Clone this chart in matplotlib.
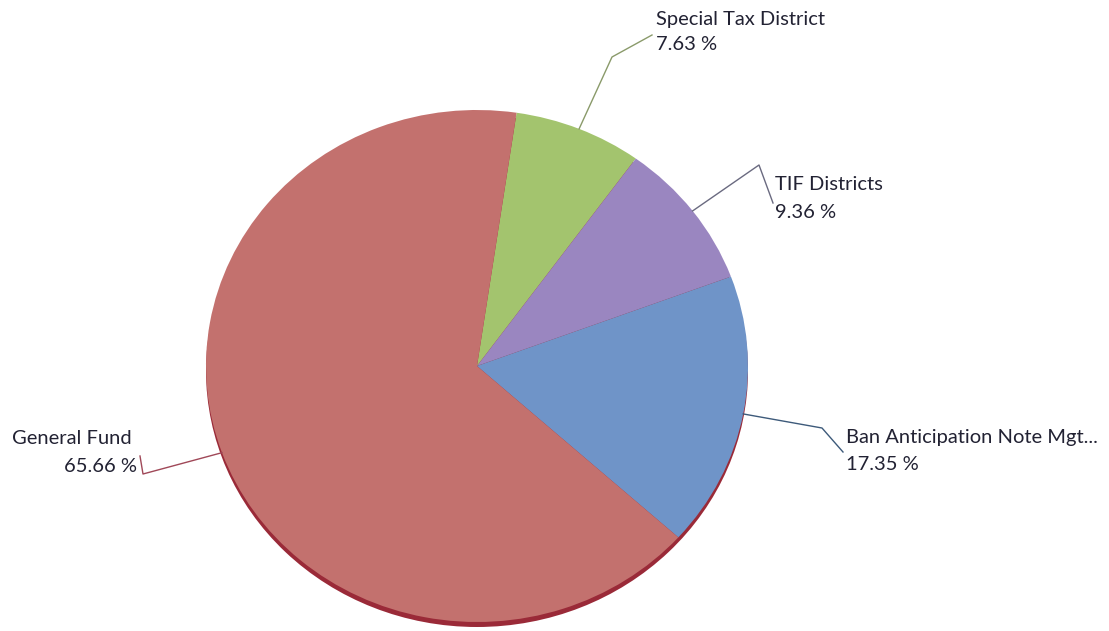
import numpy as np
import matplotlib
matplotlib.use("Agg")
import matplotlib.pyplot as plt
from matplotlib.patches import Ellipse

categories = ["Special Tax District", "TIF Districts", "Ban Anticipation Note Mgt...", "General Fund"]
values = [7.63, 9.36, 17.35, 65.66]
colors = ["#A3C46E", "#9A86C0", "#6F94C8", "#C3716E"]
line_colors = ["#8A9A6A", "#6A6A80", "#3D5A7A", "#A04858"]

W, H = 1109, 631
CX, CY = 477, 366
RX, RY = 271, 256

fig = plt.figure(figsize=(W / 100, H / 100), dpi=100)
ax = fig.add_axes([0, 0, 1, 1])

def px(x, y):
    return (x - CX) / RX, (CY - y) / RY

# shadow / 3D rim
sh = Ellipse((0, -5 / RY), 2.0, 2.0, facecolor="#9A2A38", edgecolor="none", zorder=1)
ax.add_patch(sh)

start = 90 - 8.4
wedges, _ = ax.pie(values, colors=colors, startangle=start, counterclock=False,
                   radius=1.0, center=(0, 0), frame=True,
                   wedgeprops=dict(linewidth=0.6, edgecolor="none"))
for w in wedges:
    w.set_zorder(2)
ax.set_xlim(-CX / RX, (W - CX) / RX)
ax.set_ylim(-(H - CY) / RY, CY / RY)
ax.set_aspect("auto")
ax.axis("off")

# layout for labels (pixel coords): elbow, line end, text x, line-1 y, line-2 y
elbows = [(612, 57), (759, 165), (822, 428), (143, 474)]
ends = [(652, 35), (773, 203), (843, 452), (140, 456)]
text_x = [656, 775, 846, 12]
line1_y = [20, 185, 437, 438]
line2_y = [45, 212, 464, 466]
pct_right_x = 137

font = ["Lato", "DejaVu Sans"]
fs = 14.5
tc = "#222233"
cum = 0
for i, (cat, v) in enumerate(zip(categories, values)):
    mid = start - (cum + v / 2) * 3.6
    cum += v
    ex, ey = np.cos(np.radians(mid)), np.sin(np.radians(mid))
    bx, by = px(*elbows[i])
    qx, qy = px(*ends[i])
    ax.plot([ex, bx, qx], [ey, by, qy], color=line_colors[i], lw=1.0, zorder=3)
    tx, ty1 = px(text_x[i], line1_y[i])
    _, ty2 = px(text_x[i], line2_y[i])
    ax.text(tx, ty1, cat, ha="left", va="center", fontsize=fs, family=font, color=tc)
    if i == 3:
        rx_, _ = px(pct_right_x, 0)
        ax.text(rx_, ty2, f"{v:.2f} %", ha="right", va="center", fontsize=fs,
                family=font, color=tc)
    else:
        ax.text(tx, ty2, f"{v:.2f} %", ha="left", va="center", fontsize=fs,
                family=font, color=tc)

fig.savefig("out.png", dpi=100, facecolor="white")
